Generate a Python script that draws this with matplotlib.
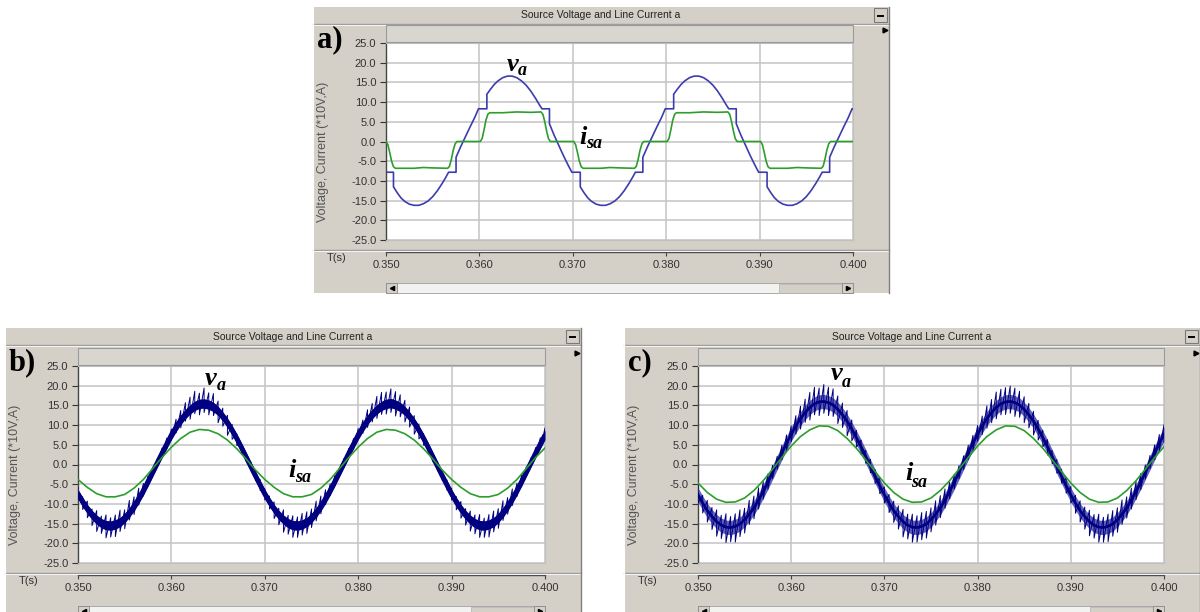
import numpy as np
import matplotlib
matplotlib.use('Agg')
import matplotlib.pyplot as plt
from matplotlib.patches import Rectangle
from matplotlib.lines import Line2D

# ---------------- data ----------------
x_ticks = [0.350, 0.360, 0.370, 0.380, 0.390, 0.400]
y_ticks = [25.0, 20.0, 15.0, 10.0, 5.0, 0.0, -5.0, -10.0, -15.0, -20.0, -25.0]
title_text = 'Source Voltage and Line Current a'
y_label = 'Voltage, Current (*10V,A)'
x_label = 'T(s)'
panel_letters = ['a)', 'b)', 'c)']

# panel a : source voltage (stepped sine) and quasi-square line current
va_a_t = [0.3500, 0.3508, 0.3508, 0.3512, 0.3516, 0.3520, 0.3525, 0.3530, 0.3535, 0.3540, 0.3545, 0.3550, 0.3555, 0.3560, 0.3564, 0.3567, 0.3575, 0.3575, 0.3580, 0.3585, 0.3590, 0.3595, 0.3599,
          0.3608, 0.3608, 0.3612, 0.3616, 0.3620, 0.3625, 0.3630, 0.3635, 0.3640, 0.3645, 0.3650, 0.3655, 0.3660, 0.3664, 0.3667, 0.3675, 0.3675, 0.3680, 0.3685, 0.3690, 0.3695, 0.3699,
          0.3708, 0.3708, 0.3712, 0.3716, 0.3720, 0.3725, 0.3730, 0.3735, 0.3740, 0.3745, 0.3750, 0.3755, 0.3760, 0.3764, 0.3767, 0.3775, 0.3775, 0.3780, 0.3785, 0.3790, 0.3795, 0.3799,
          0.3808, 0.3808, 0.3812, 0.3816, 0.3820, 0.3825, 0.3830, 0.3835, 0.3840, 0.3845, 0.3850, 0.3855, 0.3860, 0.3864, 0.3867, 0.3875, 0.3875, 0.3880, 0.3885, 0.3890, 0.3895, 0.3899,
          0.3908, 0.3908, 0.3912, 0.3916, 0.3920, 0.3925, 0.3930, 0.3935, 0.3940, 0.3945, 0.3950, 0.3955, 0.3960, 0.3964, 0.3967, 0.3975, 0.3975, 0.3980, 0.3985, 0.3990, 0.3995, 0.3999, 0.4000]
va_a_v = [-7.8, -7.8, -11.5, -13.0, -14.3, -15.2, -15.9, -16.2, -16.2, -15.8, -15.1, -14.0, -12.5, -10.7, -9.1, -7.8, -7.8, -4.0, -1.3, 1.2, 3.7, 6.1, 8.3,
          8.3, 12.0, 13.3, 14.5, 15.4, 16.2, 16.6, 16.6, 16.2, 15.4, 14.3, 12.8, 11.0, 9.4, 8.3, 8.3, 4.5, 1.6, -1.0, -3.6, -6.0, -7.8,
          -7.8, -11.5, -13.0, -14.3, -15.2, -15.9, -16.2, -16.2, -15.8, -15.1, -14.0, -12.5, -10.7, -9.1, -7.8, -7.8, -4.0, -1.3, 1.2, 3.7, 6.1, 8.3,
          8.3, 12.0, 13.3, 14.5, 15.4, 16.2, 16.6, 16.6, 16.2, 15.4, 14.3, 12.8, 11.0, 9.4, 8.3, 8.3, 4.5, 1.6, -1.0, -3.6, -6.0, -7.8,
          -7.8, -11.5, -13.0, -14.3, -15.2, -15.9, -16.2, -16.2, -15.8, -15.1, -14.0, -12.5, -10.7, -9.1, -7.8, -7.8, -4.0, -1.3, 1.2, 3.7, 6.1, 8.3, 8.3]
isa_a_t = [0.3500, 0.3502, 0.3504, 0.3506, 0.3508, 0.3510, 0.3530, 0.3540, 0.3550, 0.3566, 0.3568, 0.3570, 0.3572, 0.3574, 0.3576,
           0.3601, 0.3603, 0.3605, 0.3607, 0.3609, 0.3611, 0.3625, 0.3640, 0.3655, 0.3666, 0.3668, 0.3670, 0.3672, 0.3674, 0.3676,
           0.3701, 0.3703, 0.3705, 0.3707, 0.3709, 0.3711, 0.3730, 0.3740, 0.3750, 0.3766, 0.3768, 0.3770, 0.3772, 0.3774, 0.3776,
           0.3801, 0.3803, 0.3805, 0.3807, 0.3809, 0.3811, 0.3825, 0.3840, 0.3855, 0.3866, 0.3868, 0.3870, 0.3872, 0.3874, 0.3876,
           0.3901, 0.3903, 0.3905, 0.3907, 0.3909, 0.3911, 0.3930, 0.3940, 0.3950, 0.3966, 0.3968, 0.3970, 0.3972, 0.3974, 0.3976, 0.4000]
isa_a_v = [0.0, -0.8, -2.8, -5.0, -6.4, -6.8, -6.8, -6.6, -6.7, -6.8, -6.3, -4.5, -2.2, -0.6, 0.0,
           0.0, 0.8, 3.0, 5.4, 6.9, 7.3, 7.3, 7.5, 7.4, 7.5, 6.9, 5.0, 2.6, 0.7, 0.0,
           0.0, -0.8, -2.8, -5.0, -6.4, -6.8, -6.8, -6.6, -6.7, -6.8, -6.3, -4.5, -2.2, -0.6, 0.0,
           0.0, 0.8, 3.0, 5.4, 6.9, 7.3, 7.3, 7.5, 7.4, 7.5, 6.9, 5.0, 2.6, 0.7, 0.0,
           0.0, -0.8, -2.8, -5.0, -6.4, -6.8, -6.8, -6.6, -6.7, -6.8, -6.3, -4.5, -2.2, -0.6, 0.0, 0.0]

# panels b, c : voltage (mean path) sampled every 0.5 ms, plus ripple extents
v_t = np.linspace(0.350, 0.400, 101)
va_b_v = [-7.5, -9.5, -11.3, -12.8, -14.0, -14.9, -15.4, -15.5, -15.2, -14.6, -13.6, -12.2, -10.6, -8.7, -6.6, -4.3, -1.9, 0.5, 2.9, 5.2,
          7.5, 9.5, 11.3, 12.8, 14.0, 14.9, 15.4, 15.5, 15.2, 14.6, 13.6, 12.2, 10.6, 8.7, 6.6, 4.3, 1.9, -0.5, -2.9, -5.2,
          -7.5, -9.5, -11.3, -12.8, -14.0, -14.9, -15.4, -15.5, -15.2, -14.6, -13.6, -12.2, -10.6, -8.7, -6.6, -4.3, -1.9, 0.5, 2.9, 5.2,
          7.5, 9.5, 11.3, 12.8, 14.0, 14.9, 15.4, 15.6, 15.2, 14.6, 13.6, 12.2, 10.6, 8.7, 6.6, 4.3, 1.9, -0.5, -2.9, -5.2,
          -7.5, -9.5, -11.3, -12.8, -14.0, -14.9, -15.4, -15.5, -15.2, -14.6, -13.6, -12.2, -10.6, -8.7, -6.6, -4.3, -1.9, 0.5, 2.9, 5.2, 7.5]
rip_b_up = [1.6, 1.3, 2.0, 1.5, 2.3, 1.8, 2.6, 2.0, 2.4, 3.0, 2.1, 3.1, 2.4, 2.7, 1.8, 1.4, 1.2, 1.0, 1.3, 1.5,
            1.5, 2.0, 2.4, 2.9, 3.1, 3.7, 2.7, 3.9, 3.0, 3.4, 2.5, 2.1, 1.9, 1.5, 1.2, 1.0, 1.0, 1.2, 1.1, 1.4,
            1.4, 1.5, 1.8, 1.7, 2.5, 2.0, 2.4, 2.2, 2.8, 2.6, 2.3, 2.9, 2.6, 2.3, 1.7, 1.5, 1.1, 1.1, 1.2, 1.4,
            1.6, 1.8, 2.6, 2.7, 3.3, 3.4, 3.0, 3.6, 3.3, 3.1, 2.7, 2.4, 1.8, 1.6, 1.3, 1.1, 0.9, 1.1, 1.2, 1.3,
            1.5, 1.4, 1.9, 1.6, 2.2, 2.1, 2.7, 1.9, 2.5, 2.8, 2.4, 3.0, 2.2, 2.5, 1.9, 1.6, 1.3, 1.2, 1.4, 1.6, 1.8]
rip_b_dn = [1.4, 1.9, 2.2, 2.7, 3.0, 2.6, 3.2, 2.9, 3.1, 2.4, 2.7, 1.9, 2.1, 1.6, 1.4, 1.2, 1.0, 1.1, 1.2, 1.2,
            1.3, 1.5, 2.0, 1.8, 2.5, 2.0, 2.8, 2.3, 2.6, 2.2, 3.0, 2.5, 3.2, 2.3, 1.8, 1.4, 1.1, 1.0, 1.2, 1.4,
            1.5, 1.8, 2.4, 2.5, 3.2, 2.8, 3.1, 3.0, 2.7, 2.9, 2.4, 2.1, 1.9, 1.5, 1.3, 1.1, 1.0, 1.2, 1.1, 1.3,
            1.2, 1.6, 1.9, 2.0, 2.3, 2.2, 2.6, 2.4, 2.9, 2.5, 2.8, 2.7, 2.9, 2.2, 1.7, 1.5, 1.2, 1.1, 1.1, 1.3,
            1.5, 2.0, 2.3, 2.6, 2.9, 2.7, 3.1, 3.0, 3.2, 2.5, 2.6, 2.0, 2.0, 1.7, 1.5, 1.3, 1.1, 1.0, 1.2, 1.3, 1.4]
va_c_v = [-7.7, -9.8, -11.7, -13.2, -14.5, -15.4, -15.9, -16.0, -15.7, -15.1, -14.0, -12.6, -11.0, -9.0, -6.8, -4.5, -2.0, 0.5, 3.0, 5.4,
          7.7, 9.8, 11.7, 13.2, 14.5, 15.4, 15.9, 16.0, 15.7, 15.1, 14.0, 12.6, 11.0, 9.0, 6.8, 4.5, 2.0, -0.5, -3.0, -5.4,
          -7.7, -9.8, -11.7, -13.2, -14.5, -15.4, -15.9, -16.0, -15.7, -15.1, -14.0, -12.6, -11.0, -9.0, -6.8, -4.5, -2.0, 0.5, 3.0, 5.4,
          7.7, 9.8, 11.7, 13.2, 14.5, 15.4, 15.9, 16.0, 15.7, 15.1, 14.0, 12.6, 11.0, 9.0, 6.8, 4.5, 2.0, -0.5, -3.0, -5.4,
          -7.7, -9.8, -11.7, -13.2, -14.5, -15.4, -15.9, -16.0, -15.7, -15.1, -14.0, -12.6, -11.0, -9.0, -6.8, -4.5, -2.0, 0.5, 3.0, 5.4, 7.7]
rip_c_up = [2.2, 2.0, 2.6, 2.3, 3.0, 2.5, 3.4, 2.8, 3.2, 3.6, 2.9, 3.5, 3.0, 3.1, 2.4, 2.1, 1.8, 1.6, 1.9, 2.1,
            2.1, 2.6, 3.1, 3.4, 3.8, 4.2, 3.5, 4.3, 3.9, 4.1, 3.4, 3.0, 2.7, 2.3, 1.9, 1.7, 1.6, 1.8, 1.7, 2.0,
            2.0, 2.2, 2.4, 2.7, 3.1, 2.8, 3.3, 3.0, 3.5, 3.2, 3.0, 3.4, 3.1, 2.8, 2.3, 2.0, 1.7, 1.7, 1.9, 2.0,
            2.2, 2.5, 3.2, 3.3, 3.9, 3.7, 3.6, 3.9, 3.7, 3.5, 3.2, 2.9, 2.5, 2.2, 1.9, 1.8, 1.5, 1.7, 1.8, 1.9,
            2.1, 2.0, 2.5, 2.4, 2.9, 2.7, 3.3, 2.6, 3.1, 3.4, 3.0, 3.6, 2.8, 3.0, 2.5, 2.2, 1.9, 1.8, 2.0, 2.2, 2.4]
rip_c_dn = [2.0, 2.5, 2.9, 3.3, 3.7, 3.4, 3.9, 3.6, 4.0, 3.2, 3.4, 2.6, 2.8, 2.3, 2.0, 1.8, 1.6, 1.7, 1.8, 1.9,
            1.9, 2.1, 2.7, 2.5, 3.2, 2.8, 3.5, 3.0, 3.3, 2.9, 3.6, 3.2, 3.7, 3.0, 2.4, 2.0, 1.7, 1.6, 1.8, 2.0,
            2.1, 2.4, 3.0, 3.2, 3.9, 3.5, 3.8, 3.7, 3.4, 3.6, 3.1, 2.8, 2.5, 2.1, 1.9, 1.7, 1.6, 1.8, 1.7, 1.9,
            1.8, 2.2, 2.5, 2.6, 2.9, 2.8, 3.2, 3.0, 3.5, 3.1, 3.4, 3.3, 3.5, 2.8, 2.3, 2.1, 1.8, 1.7, 1.7, 1.9,
            2.1, 2.6, 2.9, 3.2, 3.6, 3.3, 3.8, 3.7, 3.9, 3.1, 3.2, 2.6, 2.6, 2.3, 2.1, 1.9, 1.7, 1.6, 1.8, 1.9, 2.0]

# panels b, c : line current sampled every 1 ms
i_t = np.linspace(0.350, 0.400, 51)
isa_b_v = [-3.8, -5.8, -7.4, -8.2, -8.2, -7.6, -6.0, -3.8, -1.0, 1.8, 4.4, 6.6, 8.2, 8.9, 8.7, 7.8, 6.2, 4.0, 1.4, -1.4,
           -3.8, -5.8, -7.4, -8.2, -8.2, -7.6, -6.0, -3.8, -1.0, 1.8, 4.4, 6.6, 8.2, 8.9, 8.7, 7.8, 6.2, 4.0, 1.4, -1.4,
           -3.8, -5.8, -7.4, -8.2, -8.2, -7.6, -6.0, -3.8, -1.0, 1.8, 4.2]
isa_c_v = [-4.7, -7.1, -8.8, -9.6, -9.5, -8.5, -6.6, -4.1, -1.2, 1.8, 4.7, 7.1, 8.8, 9.8, 9.7, 8.6, 6.6, 4.1, 1.2, -1.8,
           -4.7, -7.1, -8.8, -9.6, -9.5, -8.5, -6.6, -4.1, -1.2, 1.8, 4.7, 7.1, 8.8, 9.8, 9.7, 8.6, 6.6, 4.1, 1.2, -1.8,
           -4.7, -7.1, -8.8, -9.6, -9.5, -8.5, -6.6, -4.1, -1.2, 1.8, 4.5]

# label anchor points (data coordinates) for the annotations
ann_a = [(0.3636, 19.6), (0.36456, 17.9), (0.3711, 1.1), (0.37227, -0.6)]
ann_b = [(0.36424, 21.9), (0.36531, 20.0), (0.37291, -1.4), (0.37409, -3.4)]
ann_c = [(0.36491, 23.0), (0.36588, 20.8), (0.37264, -2.4), (0.37371, -4.6)]

# ---------------- style / layout ----------------
W, H = 1200, 612
GRAY = '#d4d0c8'
BLUE_A = '#3c3cae'
NAVY = '#000080'
MIDBLUE = '#3a3aae'
GREEN = '#2b9e2b'
TXT = '#333333'
plt.rcParams['font.family'] = ['Liberation Sans', 'DejaVu Sans']

fig = plt.figure(figsize=(W / 100, H / 100), dpi=100)
fig.patch.set_facecolor('white')


def fx(x):
    return x / W


def fy(y):
    return 1 - y / H


def frect(x0, y0, x1, y1, fc, ec='none', lw=0.0, z=0):
    fig.add_artist(Rectangle((fx(x0), fy(y1)), fx(x1) - fx(x0), fy(y0) - fy(y1),
                             transform=fig.transFigure, facecolor=fc, edgecolor=ec,
                             linewidth=lw, zorder=z))


def fline(x0, x1, y0, y1, color, lw=1.0, z=1):
    fig.add_artist(Line2D([fx(x0), fx(x1)], [fy(y0), fy(y1)], transform=fig.transFigure,
                          color=color, linewidth=lw, zorder=z))


def fmarker(x, y, m, size=4):
    fig.add_artist(Line2D([fx(x)], [fy(y)], transform=fig.transFigure, marker=m,
                          markersize=size, color='black', linestyle='none', zorder=3))


def window(geo, letter):
    wl, wt, wr, wb, px0, py0, px1, py1 = geo
    frect(wl, wt, wr, wb, GRAY)
    fline(wr, wr, wt, wb, '#808080', 1.0, 2)
    fline(wl, wl, wt, wb, '#ffffff', 0.8, 2)
    # title bar
    fline(wl, wr, wt + 16.5, wt + 16.5, '#9a9a9a', 1.0)
    fline(wl, wr, wt + 17.5, wt + 17.5, '#f4f4f4', 0.8)
    fig.text(fx((wl + wr) / 2), fy(wt + 8.5), title_text, ha='center', va='center',
             fontsize=7.5, color='#222222')
    frect(wr - 15, wt + 1.5, wr - 2, wt + 15, GRAY, ec='#7a7a7a', lw=0.8, z=2)
    fline(wr - 11, wr - 6, wt + 9, wt + 9, '#000000', 1.4, 3)
    # strip above plot area
    frect(px0, py0 - 18, px1, py0 - 1, '#d9d6d0', ec='#9a9a9a', lw=0.8, z=1)
    fmarker(wr - 4, py0 - 13, '>', 3.5)
    # separator above the time axis
    fline(wl, wr, py1 + 10, py1 + 10, '#9a9a9a', 1.0)
    fline(wl, wr, py1 + 11, py1 + 11, '#f4f4f4', 0.8)
    fig.text(fx(wl + 24), fy(py1 + 18), x_label, ha='center', va='center',
             fontsize=8, color=TXT)
    # scrollbar
    sy0, sy1 = py1 + 43, py1 + 53
    frect(px0, sy0, px1, sy1, '#f2f2f0', ec='#a0a0a0', lw=0.6, z=1)
    frect(px1 - 74, sy0 + 0.5, px1 - 11, sy1 - 0.5, GRAY, ec='#b0b0b0', lw=0.5, z=2)
    frect(px0, sy0, px0 + 11, sy1, GRAY, ec='#8a8a8a', lw=0.6, z=2)
    frect(px1 - 11, sy0, px1, sy1, GRAY, ec='#8a8a8a', lw=0.6, z=2)
    fmarker(px0 + 5.5, (sy0 + sy1) / 2, '<', 3)
    fmarker(px1 - 5.5, (sy0 + sy1) / 2, '>', 3)
    # y label
    fig.text(fx(wl + 10), fy((py0 + py1) / 2 + 10), y_label, rotation=90, ha='center',
             va='center', fontsize=9, color='#555555')
    # panel letter
    fig.text(fx(wl + 4), fy(py0 + 4), letter, ha='left', va='baseline', fontsize=22,
             fontweight='bold', family=['Liberation Serif', 'DejaVu Serif'], color='black', zorder=5)

    ax = fig.add_axes([fx(px0), fy(py1), fx(px1) - fx(px0), fy(py0) - fy(py1)])
    ax.set_facecolor('white')
    ax.set_xlim(x_ticks[0], x_ticks[-1])
    ax.set_ylim(y_ticks[-1], y_ticks[0])
    ax.set_yticks(y_ticks)
    ax.set_yticklabels([f'{v:.1f}' for v in y_ticks])
    ax.set_xticks(x_ticks)
    ax.set_xticklabels([])
    ax.tick_params(axis='x', length=0)
    ax.tick_params(axis='y', length=4, width=0.8, color='#333333', labelsize=8,
                   labelcolor=TXT, pad=3)
    ax.grid(True, color='#c4c4c4', linewidth=1.1)
    ax.set_axisbelow(True)
    for s in ('top', 'right', 'bottom'):
        ax.spines[s].set_color('#c0c0c0')
        ax.spines[s].set_linewidth(0.8)
    ax.spines['left'].set_color('#444444')
    ax.spines['left'].set_linewidth(1.0)

    xa = fig.add_axes([fx(px0), fy(py1 + 12), fx(px1) - fx(px0), 0.0005])
    xa.set_xlim(x_ticks[0], x_ticks[-1])
    xa.set_xticks(x_ticks)
    xa.set_xticklabels([f'{v:.3f}' for v in x_ticks])
    xa.set_yticks([])
    xa.patch.set_alpha(0)
    for s in ('top', 'right', 'left'):
        xa.spines[s].set_visible(False)
    xa.spines['bottom'].set_color('#444444')
    xa.spines['bottom'].set_linewidth(1.0)
    xa.tick_params(axis='x', direction='out', length=3, width=0.8, color='#444444',
                   labelsize=8, labelcolor=TXT, pad=3)
    return ax


def annotate(ax, pts):
    serif = ['Liberation Serif', 'DejaVu Serif']
    kw = dict(fontweight='bold', style='italic', family=serif, color='black',
              ha='center', va='center', zorder=6, clip_on=False)
    ax.text(pts[0][0], pts[0][1], 'v', fontsize=19, **kw)
    ax.text(pts[1][0], pts[1][1], 'a', fontsize=13, **kw)
    ax.text(pts[2][0], pts[2][1], 'i', fontsize=19, **kw)
    ax.text(pts[3][0], pts[3][1], 'sa', fontsize=13, **kw)


def ripple_path(t, centre, up, dn):
    # switching ripple drawn as a zig-zag between the upper and lower extents
    hi = np.asarray(centre) + np.asarray(up)
    lo = np.asarray(centre) - np.asarray(dn)
    xs = np.repeat(t, 2)
    ys = np.empty(2 * len(t))
    ys[0::2] = hi
    ys[1::2] = lo
    return xs, ys


geo_a = (313, 7, 889, 293, 386, 43, 853, 240)
geo_b = (5, 328, 581, 640, 78, 366, 545, 563)
geo_c = (624, 328, 1200, 640, 698, 366, 1164, 563)

# ---- panel a
ax_a = window(geo_a, panel_letters[0])
ax_a.plot(va_a_t, va_a_v, color=BLUE_A, lw=1.2, zorder=3)
ax_a.plot(isa_a_t, isa_a_v, color=GREEN, lw=1.2, zorder=4)
annotate(ax_a, ann_a)

# ---- panel b
ax_b = window(geo_b, panel_letters[1])
vb = np.array(va_b_v)
xs, ys = ripple_path(v_t, vb, rip_b_up, rip_b_dn)
ax_b.plot(xs, ys, color=NAVY, lw=0.7, zorder=3)
ax_b.fill_between(v_t, vb - 1.2, vb + 1.2, color=NAVY, lw=0, zorder=3)
ax_b.plot(v_t, vb, color=NAVY, lw=3.5, zorder=3, solid_capstyle='butt')
ax_b.plot(i_t, isa_b_v, color=GREEN, lw=1.2, zorder=4)
annotate(ax_b, ann_b)

# ---- panel c
ax_c = window(geo_c, panel_letters[2])
vc = np.array(va_c_v)
ax_c.fill_between(v_t, vc - 1.8, vc + 1.8, color=MIDBLUE, alpha=0.8, lw=0, zorder=3)
xs, ys = ripple_path(v_t, vc, rip_c_up, rip_c_dn)
ax_c.plot(xs, ys, color=NAVY, lw=0.7, zorder=3)
ax_c.plot(v_t, vc, color=NAVY, lw=2.0, zorder=3)
ax_c.plot(i_t, isa_c_v, color=GREEN, lw=1.2, zorder=4)
annotate(ax_c, ann_c)

fig.savefig('out.png', dpi=100, facecolor='white')
